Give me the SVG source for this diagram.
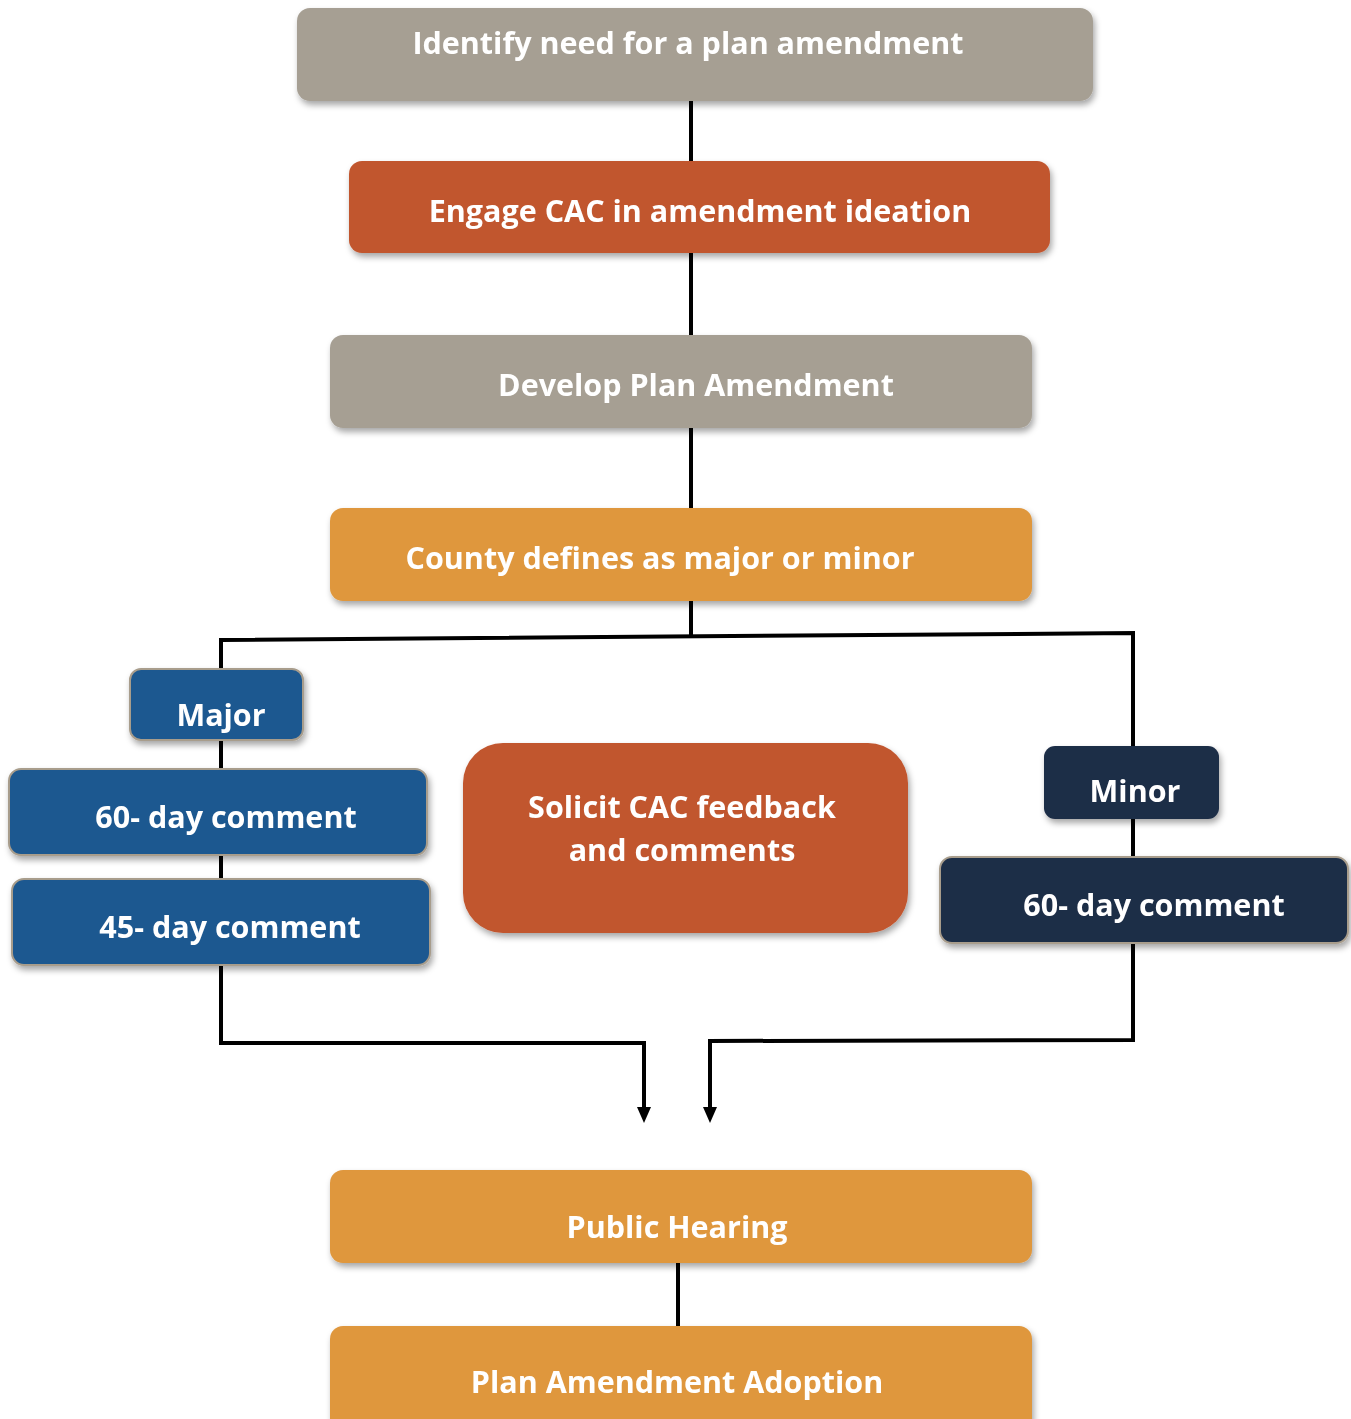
<svg xmlns="http://www.w3.org/2000/svg" width="1351" height="1419" viewBox="0 0 1351 1419">
<style>
.t{font-family:"Open Sans","Noto Sans","Liberation Sans",sans-serif;font-weight:700;fill:#fff;text-anchor:middle;font-size:30.5px}
.gray{fill:#A69F93}
.rust{fill:#C1562F}
.amber{fill:#DF973E}
.blue{fill:#1F5890;stroke:#A89D8C;stroke-width:2}
.navy{fill:#1E2D47}
.navyb{fill:#1E2D47;stroke:#A89D8C;stroke-width:2}
.c{fill:none;stroke:#000;stroke-width:4;stroke-linejoin:miter}
</style>
<defs>
<filter id="sh" x="-10%" y="-20%" width="120%" height="150%">
<feDropShadow dx="2" dy="4" stdDeviation="3" flood-color="#000" flood-opacity="0.35"/>
</filter>
<marker id="ah" markerUnits="userSpaceOnUse" markerWidth="18" markerHeight="16" refX="4" refY="8" orient="auto" viewBox="0 0 18 16">
<path d="M0,1 L16,8 L0,15 Z" fill="#000"/>
</marker>
</defs>
<rect width="1351" height="1419" fill="#fff"/>
<g id="connectors">
<line class="c" x1="691" y1="100" x2="691" y2="162"/>
<line class="c" x1="691" y1="252" x2="691" y2="336"/>
<line class="c" x1="691" y1="427" x2="691" y2="509"/>
<line class="c" x1="691" y1="600" x2="691" y2="637"/>
<polyline class="c" points="221,668 221,640 1133,633 1133,1040 710,1041 710,1111" marker-end="url(#ah)"/>
<polyline class="c" points="221,740 221,1043 644,1043 644,1111" marker-end="url(#ah)"/>
<line class="c" x1="678" y1="1262" x2="678" y2="1327"/>
</g>
<g id="identify" filter="url(#sh)">
<rect class="gray" x="297" y="8" width="796" height="93" rx="13"/>
<text class="t" x="688" y="54">Identify need for a plan amendment</text>
</g>
<g id="engage" filter="url(#sh)">
<rect class="rust" x="349" y="161" width="701" height="92" rx="13"/>
<text class="t" x="700" y="222">Engage CAC in amendment ideation</text>
</g>
<g id="develop" filter="url(#sh)">
<rect class="gray" x="330" y="335" width="702" height="93" rx="13"/>
<text class="t" x="696" y="396">Develop Plan Amendment</text>
</g>
<g id="county" filter="url(#sh)">
<rect class="amber" x="330" y="508" width="702" height="93" rx="13"/>
<text class="t" x="660" y="569">County defines as major or minor</text>
</g>
<g id="major" filter="url(#sh)">
<rect class="blue" x="130" y="669" width="173" height="71" rx="11"/>
<text class="t" x="221" y="726">Major</text>
</g>
<g id="major60" filter="url(#sh)">
<rect class="blue" x="9" y="769" width="418" height="86" rx="12"/>
<text class="t" x="226" y="828">60- day comment</text>
</g>
<g id="major45" filter="url(#sh)">
<rect class="blue" x="12" y="879" width="418" height="86" rx="12"/>
<text class="t" x="230" y="938">45- day comment</text>
</g>
<g id="solicit" filter="url(#sh)">
<rect class="rust" x="463" y="743" width="445" height="190" rx="40"/>
<text class="t" x="682" y="818">Solicit CAC feedback</text>
<text class="t" x="682" y="861">and comments</text>
</g>
<g id="minor" filter="url(#sh)">
<rect class="navy" x="1044" y="746" width="175" height="73" rx="11"/>
<text class="t" x="1135" y="802">Minor</text>
</g>
<g id="minor60" filter="url(#sh)">
<rect class="navyb" x="940" y="857" width="408" height="86" rx="12"/>
<text class="t" x="1154" y="916">60- day comment</text>
</g>
<g id="hearing" filter="url(#sh)">
<rect class="amber" x="330" y="1170" width="702" height="93" rx="13"/>
<text class="t" x="677" y="1238">Public Hearing</text>
</g>
<g id="adoption" filter="url(#sh)">
<rect class="amber" x="330" y="1326" width="702" height="110" rx="13"/>
<text class="t" x="677" y="1393">Plan Amendment Adoption</text>
</g>
</svg>
